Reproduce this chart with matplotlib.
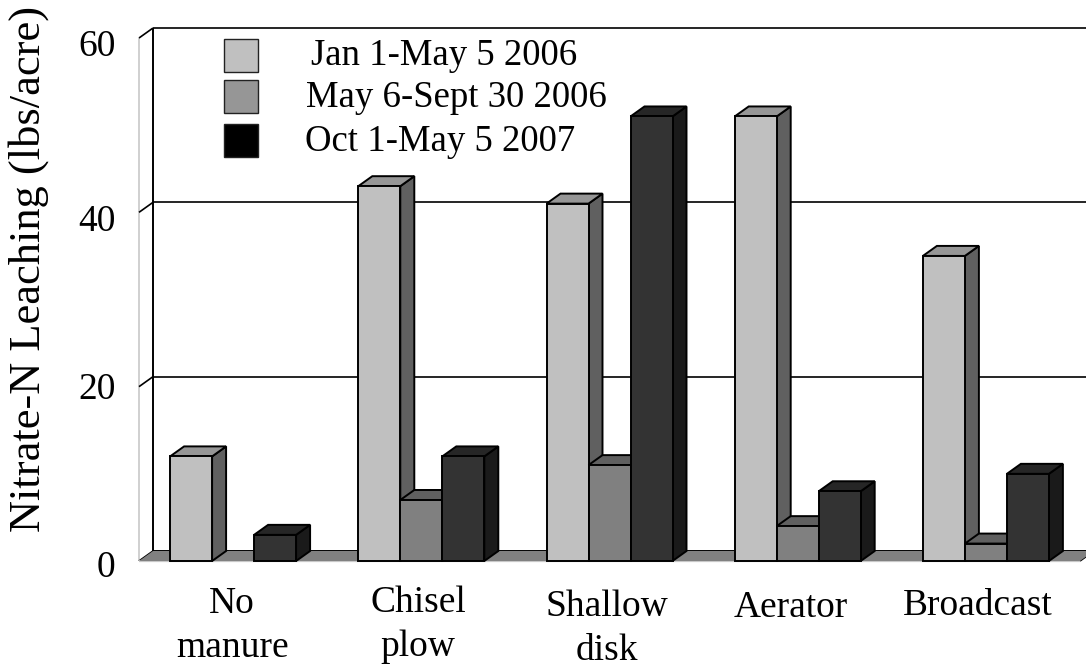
import matplotlib
matplotlib.use('Agg')
import matplotlib.pyplot as plt
from matplotlib.patches import Polygon, Rectangle
from matplotlib.transforms import ScaledTranslation

plt.rcParams['font.family'] = ['Liberation Serif', 'DejaVu Serif']

categories = ['No\nmanure', 'Chisel\nplow', 'Shallow\ndisk', 'Aerator', 'Broadcast']
jan_may_2006 = [12, 43, 41, 51, 35]
may_sept_2006 = [0, 7, 11, 4, 2]
oct_may_2007 = [3, 12, 51, 8, 10]
series_labels = ['Jan 1-May 5 2006', 'May 6-Sept 30 2006', 'Oct 1-May 5 2007']
y_ticks = [0, 20, 40, 60]

W, H = 1086, 667
# front, top, side shades for each series
shades = [('#c0c0c0', '#969696', '#606060'),
          ('#808080', '#606060', '#4d4d4d'),
          ('#333333', '#262626', '#1a1a1a')]
legend_colors = ['#c0c0c0', '#969696', '#000000']

fig = plt.figure(figsize=(W / 100, H / 100), dpi=100)
left, right, top, bottom = 139, 1080, 38, 561
ax = fig.add_axes([left / W, 1 - bottom / H, (right - left) / W, (bottom - top) / H])
ax.set_xlim(-0.5, 4.5)
ax.set_ylim(0, 60)
for s in ax.spines.values():
    s.set_visible(False)

# depth of the fake 3d, 14 px right and 10 px up, in data units
dx = 14 / ((right - left) / 5)
dy = 10 / ((bottom - top) / 60)
bar_w = 42 / ((right - left) / 5)


def poly(pts, fc, ec='black', lw=1.4, z=2):
    ax.add_patch(Polygon(pts, closed=True, facecolor=fc, edgecolor=ec, linewidth=lw,
                         joinstyle='miter', zorder=z, clip_on=False))


def line(xs, ys, color='black', lw=1.2, z=1):
    ax.plot(xs, ys, color=color, lw=lw, zorder=z, clip_on=False, solid_capstyle='butt')


# floor
poly([(-0.5, 0), (4.5, 0), (4.5 + dx, dy), (-0.5 + dx, dy)], '#808080', ec='none', lw=0)
line([-0.5 + dx, 4.5 + dx], [dy, dy], lw=1.4, z=1.5)
line([-0.5, 4.5], [0, 0], color='#c8c8c8', lw=1.6, z=1.5)
line([4.5, 4.5 + dx], [0, dy], color='black', lw=1.2)

# walls and gridlines
line([-0.5, -0.5], [0, 60], color='#c8c8c8', lw=1.2)
line([-0.5 + dx, -0.5 + dx], [dy, 60 + dy], lw=1.4)
for t in y_ticks:
    line([-0.5, -0.5 + dx], [t, t + dy], lw=1.2)
    if t > 0:
        line([-0.5 + dx, 4.5 + dx], [t + dy, t + dy], lw=1.2)

# bars, left to right so each front hides the side of the previous one
for s, vals in enumerate([jan_may_2006, may_sept_2006, oct_may_2007]):
    front, roof, side = shades[s]
    for c, v in enumerate(vals):
        if v == 0:
            continue
        x0 = c - 1.5 * bar_w + s * bar_w
        x1 = x0 + bar_w
        poly([(x1, 0), (x1 + dx, dy), (x1 + dx, v + dy), (x1, v)], side, z=3 + s + c * 3)
        poly([(x0, v), (x1, v), (x1 + dx, v + dy), (x0 + dx, v + dy)], roof, z=3 + s + c * 3)
        ax.add_patch(Rectangle((x0, 0), bar_w, v, facecolor=front, edgecolor='black', linewidth=1.4,
                               zorder=3 + s + c * 3, clip_on=False))

ax.set_yticks(y_ticks)
ax.tick_params(axis='y', length=0, pad=17, labelsize=27)
# tick numbers are not quite level with their ticks in the original (px, down)
tick_shift = [3, -1, 5, 5]
for tick, sh in zip(ax.yaxis.get_major_ticks(), tick_shift):
    lab = tick.label1
    lab.set_transform(lab.get_transform() + ScaledTranslation(0, -sh / 100, fig.dpi_scale_trans))
ax.set_xticks([])
ax.set_ylabel('Nitrate-N Leaching (lbs/acre)', fontsize=32)
ax.yaxis.set_label_coords((49 - left) / (right - left), (bottom - 269) / (bottom - top))

# category labels sit a bit unevenly in the original
label_dx = [-1, -3, -3, -7, -8]
label_base = [657, 656, 660, 617, 615]
for c, name in enumerate(categories):
    ax.annotate(name, xy=(c, 0), xycoords='data',
                xytext=(label_dx[c] * 0.72, -(label_base[c] - bottom) * 0.72), textcoords='offset points',
                ha='center', va='baseline', fontsize=27, linespacing=1.36)

# legend
swatch_tops = [39, 80, 124]
text_lefts = [311, 306, 305]
text_bases = [65, 107, 151]
for top_px, col, txt, tx, ty in zip(swatch_tops, legend_colors, series_labels, text_lefts, text_bases):
    fig.add_artist(Rectangle((224 / W, 1 - (top_px + 33) / H), 34 / W, 33 / H, facecolor=col,
                             edgecolor='#222222', linewidth=1.0, transform=fig.transFigure))
    fig.text(tx / W, 1 - ty / H, txt, fontsize=26.5, ha='left', va='baseline')

fig.savefig('out.png', dpi=100)
